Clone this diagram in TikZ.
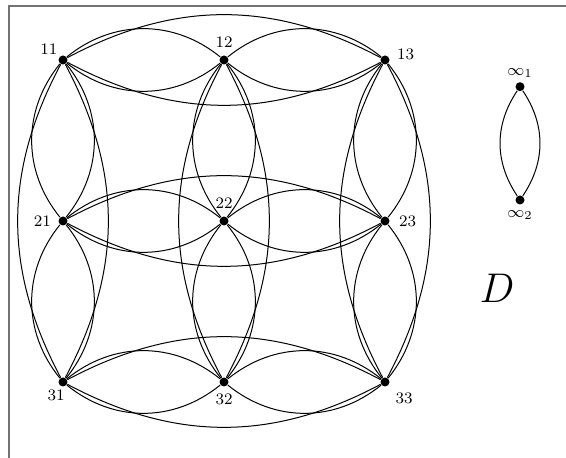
\documentclass[tikz,border=0pt]{standalone}
\usepackage{tikz}

\begin{document}
\begin{tikzpicture}[font=\footnotesize,x=0.5pt,y=0.5pt,line width=0.5pt,
  vtx/.style={circle,fill=black,inner sep=0pt,minimum size=4.5pt},
  frm/.style={black!55,line width=1pt}]
\useasboundingbox (0,0) rectangle (566,458);
% ================= Frame =================
\draw[frm] (9,0) -- (9,452) -- (566,452);

% ================= Grid vertices =================
\node[vtx,label={[xshift=2.5pt,yshift=-2.5pt]above left:11}] (n11) at (63,398) {};
\node[vtx,label=above:12] (n12) at (224,398) {};
\node[vtx,label={[yshift=3pt]right:13}] (n13) at (385,398) {};
\node[vtx,label=left:21] (n21) at (63,237) {};
\node[vtx,label=above:22] (n22) at (224,237) {};
\node[vtx,label={[label distance=1pt]right:23}] (n23) at (385,237) {};
\node[vtx,label={[xshift=-3.5pt,yshift=2pt]below:31}] (n31) at (63,76) {};
\node[vtx,label=below:32] (n32) at (224,76) {};
\node[vtx,label=below right:33] (n33) at (385,76) {};

% ================= Rows and columns =================
\foreach \i in {1,2,3}{
  \foreach \a/\b in {1/2,2/3}{
    \draw (n\i\a) to[bend left=39] (n\i\b);
    \draw (n\i\a) to[bend right=39] (n\i\b);
    \draw (n\a\i) to[bend left=39] (n\b\i);
    \draw (n\a\i) to[bend right=39] (n\b\i);
  }
  \draw (n\i1) to[bend left=28] (n\i3);
  \draw (n\i1) to[bend right=28] (n\i3);
  \draw (n1\i) to[bend left=28] (n3\i);
  \draw (n1\i) to[bend right=28] (n3\i);
}

% ================= Points at infinity =================
\node[vtx,label={[label distance=-1.5pt]above:$\infty_1$}] (inf1) at (520,371.3) {};
\node[vtx,label={[label distance=-1pt]below:$\infty_2$}] (inf2) at (520,258) {};
\draw (inf1) to[bend left=34] (inf2);
\draw (inf1) to[bend right=34] (inf2);

\node[font=\huge] (dname) at (497,169.5) {$D$};
\end{tikzpicture}
\end{document}
